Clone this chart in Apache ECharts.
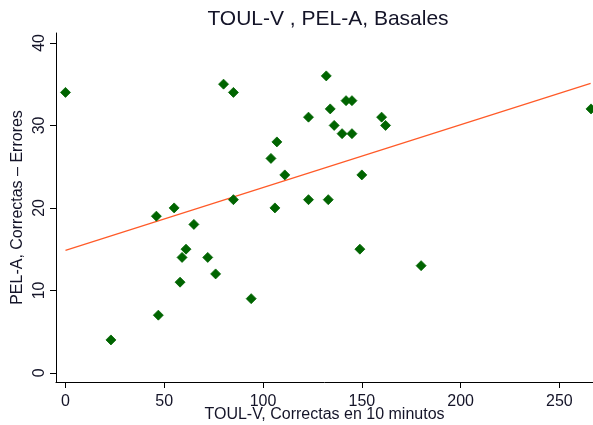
<!DOCTYPE html>
<html>
<head>
<meta charset="utf-8">
<script src="https://cdn.jsdelivr.net/npm/echarts@6/dist/echarts.min.js"></script>
<style>
  html, body { margin: 0; padding: 0; background: #fff; }
  #chart { width: 593px; height: 425px; }
</style>
</head>
<body>
<div id="chart"></div>
<script>
// TOUL-V correct answers (x) against PEL-A correct minus errors (y)
const toulV = [0, 23, 46, 47, 55, 58, 59, 61, 65, 72, 76, 80, 85, 85, 94, 104, 106, 107, 111,
               123, 123, 132, 133, 134, 136, 140, 142, 145, 145, 149, 150, 160, 162, 180, 266];
const pelA  = [34, 4, 19, 7, 20, 11, 14, 15, 18, 14, 12, 35, 34, 21, 9, 26, 20, 28, 24,
               31, 21, 36, 21, 32, 30, 29, 33, 33, 29, 15, 24, 31, 30, 13, 32];

// Fitted line end points
const fitX = [0, 265.8];
const fitY = [14.86, 35.1];

const xTicks = [0, 50, 100, 150, 200, 250];
const yTicks = [0, 10, 20, 30, 40];

const points = toulV.map((x, i) => [x, pelA[i]]);
const fitLine = fitX.map((x, i) => [x, fitY[i]]);

const font = 'Liberation Sans, Arial, sans-serif';
const textColor = '#141428';

const chart = echarts.init(document.getElementById('chart'), null, { renderer: 'canvas' });
chart.setOption({
  animation: false,
  backgroundColor: '#ffffff',
  title: {
    text: 'TOUL-V , PEL-A, Basales',
    left: 323,
    textAlign: 'center',
    top: 4,
    textStyle: { fontFamily: font, fontSize: 21, fontWeight: 'normal', color: textColor }
  },
  grid: { left: 56, right: 0, top: 33, bottom: 43, containLabel: false, outerBoundsMode: 'none' },
  xAxis: {
    type: 'value',
    min: -4.8,
    max: 267,
    name: 'TOUL-V, Correctas en 10 minutos',
    nameLocation: 'middle',
    nameGap: 25,
    nameMoveOverlap: false,
    nameTextStyle: { fontFamily: font, fontSize: 16, color: textColor },
    axisLine: { onZero: false, lineStyle: { color: '#000', width: 1 } },
    axisTick: { show: true, length: 6, lineStyle: { color: '#000' }, customValues: xTicks },
    axisLabel: { fontFamily: font, fontSize: 16, color: textColor, margin: 12, customValues: xTicks },
    splitLine: { show: false }
  },
  yAxis: {
    type: 'value',
    min: -1.1,
    max: 41.2,
    name: 'PEL-A, Correctas \u2013 Errores',
    nameLocation: 'middle',
    nameGap: 30,
    nameMoveOverlap: false,
    nameTextStyle: { fontFamily: font, fontSize: 16, color: textColor },
    axisLine: { onZero: false, lineStyle: { color: '#000', width: 1 } },
    axisTick: { show: true, length: 6, lineStyle: { color: '#000' }, customValues: yTicks },
    axisLabel: { fontFamily: font, fontSize: 16, color: textColor, rotate: 90, margin: 16,
                 verticalAlign: 'middle', align: 'center', customValues: yTicks },
    splitLine: { show: false }
  },
  series: [
    {
      type: 'line',
      data: fitLine,
      symbol: 'none',
      lineStyle: { color: '#ff5a28', width: 1.2 },
      z: 2
    },
    {
      type: 'scatter',
      data: points,
      symbol: 'diamond',
      symbolSize: 10,
      itemStyle: { color: '#006400', opacity: 1, borderColor: '#006400', borderWidth: 0.8, borderJoin: 'round' },
      z: 3
    }
  ]
});
</script>
</body>
</html>
